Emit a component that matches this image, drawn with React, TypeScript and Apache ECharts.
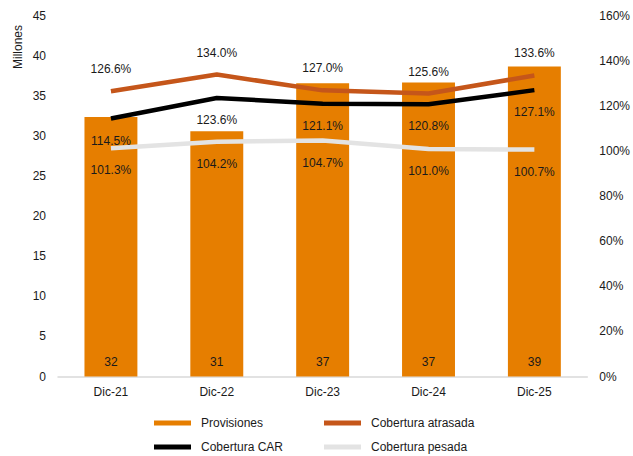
import React, { useEffect, useRef } from "react";
import * as echarts from "echarts";

const categories = ["Dic-21", "Dic-22", "Dic-23", "Dic-24", "Dic-25"];
const provisiones = [32.4, 30.6, 36.6, 36.7, 38.7];
const coberturaAtrasada = [126.6, 134.0, 127.0, 125.6, 133.6];
const coberturaCAR = [114.5, 123.6, 121.1, 120.8, 127.1];
const coberturaPesada = [101.3, 104.2, 104.7, 101.0, 100.7];

const FONT = "'Liberation Sans', Arial, sans-serif";
const ORANGE = "#E67E00";
const RUST = "#C5561A";
const BLACK = "#000000";
const GRAY = "#E3E3E3";

export default function App() {
  const ref = useRef<HTMLDivElement>(null);
  useEffect(() => {
    if (!ref.current) return;
    const chart = echarts.init(ref.current, undefined, { renderer: "svg" });
    const lineLabel = (pos: "top" | "bottom") => ({
      show: true,
      position: pos,
      distance: 16,
      color: "#1a1a1a",
      fontSize: 12,
      fontFamily: FONT,
      formatter: (p: any) => p.value.toFixed(1) + "%",
    });
    const legendBase = {
      selectedMode: false,
      padding: 0,
      itemWidth: 37,
      itemHeight: 5,
      icon: "rect",
      textStyle: { fontSize: 12, fontFamily: FONT, color: "#1a1a1a", padding: [0, 0, 0, 5] },
    };
    const lineCommon = {
      type: "line",
      yAxisIndex: 1,
      symbol: "circle",
      symbolSize: 0,
      showSymbol: true,
      labelLayout: { hideOverlap: false },
    };
    chart.setOption({
      animation: false,
      textStyle: { fontFamily: FONT },
      grid: { left: 58, right: 41, top: 16, bottom: 79.5 },
      legend: [
        { ...legendBase, left: 154, top: 417, data: ["Provisiones"] },
        { ...legendBase, left: 324, top: 417, data: ["Cobertura atrasada"] },
        { ...legendBase, left: 154, top: 441, data: ["Cobertura CAR"] },
        { ...legendBase, left: 324, top: 441, data: ["Cobertura pesada"] },
      ],
      graphic: [
        {
          type: "text",
          x: 18,
          y: 47,
          rotation: Math.PI / 2,
          style: {
            text: "Millones",
            fontSize: 12,
            fontFamily: FONT,
            fill: "#1a1a1a",
            textAlign: "center",
            textVerticalAlign: "middle",
          },
        },
      ],
      xAxis: {
        type: "category",
        data: categories,
        axisLine: { show: true, lineStyle: { color: "#D9D9D9", width: 1.5 } },
        axisTick: { show: false },
        axisLabel: { color: "#1a1a1a", fontSize: 12, fontFamily: FONT, margin: 9 },
      },
      yAxis: [
        {
          type: "value",
          min: 0,
          max: 45,
          interval: 5,
          splitLine: { show: false },
          axisLine: { show: false },
          axisTick: { show: false },
          axisLabel: { color: "#1a1a1a", fontSize: 12, fontFamily: FONT, margin: 12 },
        },
        {
          type: "value",
          min: 0,
          max: 160,
          interval: 20,
          splitLine: { show: false },
          axisLine: { show: false },
          axisTick: { show: false },
          axisLabel: {
            color: "#1a1a1a",
            fontSize: 12,
            fontFamily: FONT,
            margin: 12,
            formatter: "{value}%",
          },
        },
      ],
      series: [
        {
          name: "Provisiones",
          type: "bar",
          data: provisiones,
          barWidth: "50%",
          itemStyle: { color: ORANGE },
          label: {
            show: true,
            position: "insideBottom",
            distance: 9,
            color: "#1a1a1a",
            fontSize: 12,
            fontFamily: FONT,
            formatter: (p: any) => Math.round(p.value).toString(),
          },
        },
        {
          ...lineCommon,
          name: "Cobertura atrasada",
          data: coberturaAtrasada,
          lineStyle: { color: RUST, width: 4.5 },
          itemStyle: { color: RUST },
          label: lineLabel("top"),
        },
        {
          ...lineCommon,
          name: "Cobertura CAR",
          data: coberturaCAR,
          lineStyle: { color: BLACK, width: 4.5 },
          itemStyle: { color: BLACK },
          label: lineLabel("bottom"),
        },
        {
          ...lineCommon,
          name: "Cobertura pesada",
          data: coberturaPesada,
          lineStyle: { color: GRAY, width: 4.5 },
          itemStyle: { color: GRAY },
          label: lineLabel("bottom"),
        },
      ],
    });
    return () => chart.dispose();
  }, []);
  return <div ref={ref} style={{ width: 633, height: 456, position: "fixed", left: 0, top: 0, background: "#fff" }} />;
}
